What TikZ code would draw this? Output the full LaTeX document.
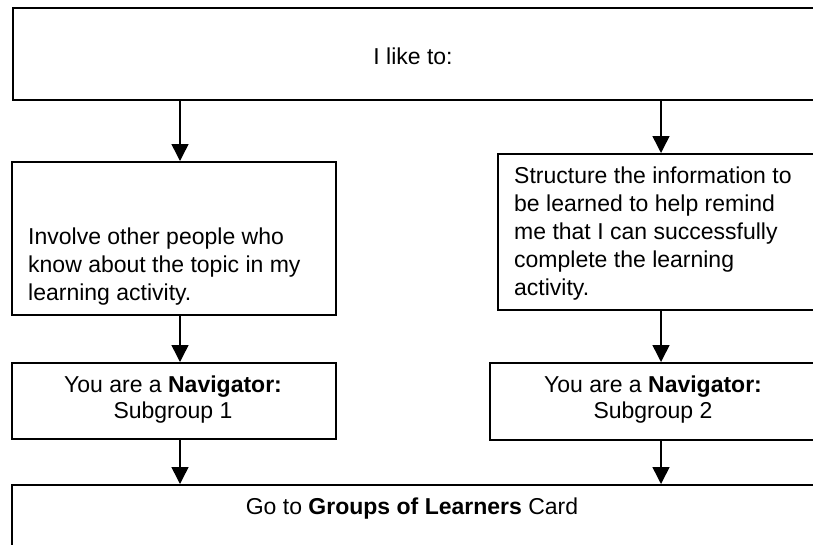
\documentclass[tikz,border=0pt]{standalone}
\usepackage{fontspec}
\setmainfont{Liberation Sans}
\usetikzlibrary{arrows.meta}
\begin{document}
\begin{tikzpicture}[x=1pt,y=-1pt,
  box/.style={draw, line width=1.5pt, inner sep=0pt, anchor=north west},
  txt/.style={font=\fontsize{23}{28}\selectfont, inner sep=0pt},
  navtxt/.style={font=\fontsize{23}{26}\selectfont, inner sep=0pt, align=center, anchor=base},
  arr/.style={line width=1.5pt, -{Triangle[length=17pt,width=17pt]}}]
\useasboundingbox (0,0) rectangle (813,544);
\clip (0,0) rectangle (813,544);
% boxes
\node[box, minimum width=830pt, minimum height=92pt] (top) at (12,7) {};
\node[box, minimum width=324pt, minimum height=153pt] (lb) at (11,161) {};
\node[box, minimum width=400pt, minimum height=156pt] (rb) at (497,153) {};
\node[box, minimum width=324pt, minimum height=76pt] (nav1) at (11,362) {};
\node[box, minimum width=400pt, minimum height=77pt] (nav2) at (489,362) {};
\node[box, minimum width=830pt, minimum height=100pt] (bot) at (11,484) {};
% texts (base anchor of a multi-line node = last line's baseline)
\node[txt, anchor=base] (ttop) at (413,64) {I like to:};
\node[txt, anchor=base west, align=left] (tlb) at (28,300)
  {Involve other people who\\know about the topic in my\\learning activity.};
\node[txt, anchor=base west, align=left] (trb) at (514,295)
  {Structure the information to\\be learned to help remind\\me that I can successfully\\complete the learning\\activity.};
\node[navtxt] (tnav1) at (173,418) {You are a \textbf{Navigator:}\\Subgroup 1};
\node[navtxt] (tnav2) at (653,418) {You are a \textbf{Navigator:}\\Subgroup 2};
\node[txt, anchor=base] (tbot) at (412,514) {Go to \textbf{Groups of Learners} Card};
% connector columns
\coordinate (cl) at (180,0);
\coordinate (cr) at (661,0);
\draw[arr] (top.south -| cl) -- (lb.north -| cl);
\draw[arr] (top.south -| cr) -- (rb.north -| cr);
\draw[arr] (lb.south -| cl) -- (nav1.north -| cl);
\draw[arr] (rb.south -| cr) -- (nav2.north -| cr);
\draw[arr] (nav1.south -| cl) -- (bot.north -| cl);
\draw[arr] (nav2.south -| cr) -- (bot.north -| cr);
\end{tikzpicture}
\end{document}
